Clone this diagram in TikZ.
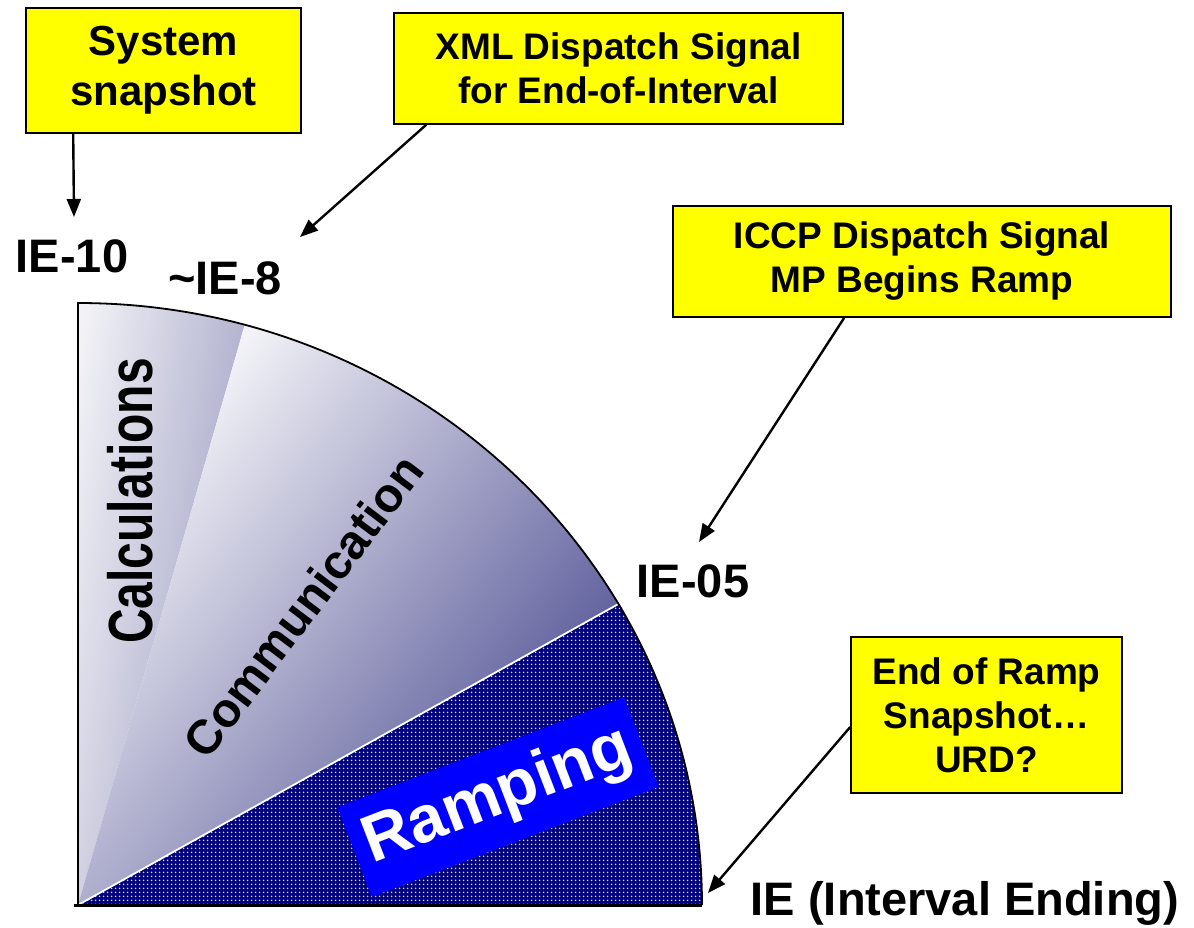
\documentclass[tikz,border=0pt]{standalone}
\usepackage{fontspec}
\setmainfont{Liberation Sans}
\usetikzlibrary{arrows.meta,patterns.meta,calc}
\definecolor{boxyellow}{HTML}{FFFF00}
\definecolor{navyA}{HTML}{000080}
\definecolor{dotc}{HTML}{E0E0FF}
\definecolor{rampblue}{HTML}{0000FF}
\definecolor{commL}{HTML}{F4F4F8}
\definecolor{commD}{HTML}{6464A0}
\definecolor{calcL}{HTML}{F6F6F9}
\definecolor{calcD}{HTML}{B0B0CE}
\begin{document}
\begin{tikzpicture}[x=1pt,y=-1pt,
  lab/.style={font=\fontsize{47}{56}\selectfont\bfseries, inner sep=0pt, anchor=base},
  ybox/.style={draw=black, line width=1.6pt, fill=boxyellow, align=center, inner sep=0pt,
    font=\fontsize{37}{44}\selectfont\bfseries},
  arr/.style={-{Triangle[length=18pt,width=14pt]}, line width=2.4pt},
  sector/.style={font=\fontsize{48}{56}\selectfont\bfseries, inner sep=0pt}
]
\useasboundingbox (0,0) rectangle (1194,927);
\fill[white] (0,0) rectangle (1194,927);

% geometry of the quarter disc
\coordinate (O) at (78,905);
\coordinate (T) at ($(O)+(-90:624 and 602)$);
\coordinate (P1) at ($(O)+(-74.5:624 and 602)$);
\coordinate (P2) at ($(O)+(-30:624 and 602)$);
\coordinate (R) at ($(O)+(0:624 and 602)$);

% Calculations wedge
\begin{scope}
  \clip (O) -- (T) arc[start angle=-90, end angle=-74.5, x radius=624, y radius=602] -- cycle;
  \begin{scope}[transform canvas={rotate around={-9:(161,339)}}]
    \fill[calcL] (-600,-600) rectangle (72,1600);
    \fill[calcD] (250,-600) rectangle (900,1600);
    \shade[left color=calcL, right color=calcD] (71,-600) rectangle (251,1600);
  \end{scope}
\end{scope}

% Communication wedge
\begin{scope}
  \clip (O) -- (P1) arc[start angle=-74.5, end angle=-30, x radius=624, y radius=602] -- cycle;
  \begin{scope}[transform canvas={rotate around={52:(431,464)}}]
    \fill[commL] (-400,-600) rectangle (1300,236);
    \fill[commD] (-400,693) rectangle (1300,1600);
    \shade[top color=commL, bottom color=commD] (-400,234) rectangle (1300,695);
  \end{scope}
\end{scope}

% Ramping wedge
\fill[navyA] (O) -- (P2) arc[start angle=-30, end angle=0, x radius=624, y radius=602] -- cycle;
\fill[pattern={Dots[distance=4pt,radius=1pt]}, pattern color=dotc]
  (O) -- (P2) arc[start angle=-30, end angle=0, x radius=624, y radius=602] -- cycle;
\draw[white, line width=1.8pt] (O) -- (P2);

% outline
\draw[line width=1.8pt] (O) -- (T) arc[start angle=-90, end angle=0, x radius=624, y radius=602];
\draw[line width=3pt] (74,905) -- (R);

% sector texts
\node[sector, rotate=90] (calc) at (130,501) {\scalebox{1}[1.3]{Calculations}};
\node[sector, rotate=53] (comm) at (303,606) {Communication};
\node[fill=rampblue, rotate=21, minimum width=307pt, minimum height=96pt, inner sep=0pt,
  text=white, font=\fontsize{66}{70}\selectfont\bfseries] (ramp) at (498,797) {Ramping};

% time labels
\node[lab] (ie10) at (72,272) {IE-10};
\node[lab] (ie8) at (225,294) {\char`\~IE-8};
\node[lab] (ie05) at (693,597) {IE-05};
\node[lab] (ie) at (965,915) {IE (Interval Ending)};

% yellow boxes
\node[ybox, minimum width=275pt, minimum height=125pt,
  font=\fontsize{42}{50}\selectfont\bfseries] (sys) at (163.5,70.5) {System\\snapshot};
\node[ybox, minimum width=449pt, minimum height=111pt] (xml) at (618.5,68.5)
  {XML Dispatch Signal\\for End-of-Interval};
\node[ybox, minimum width=498pt, minimum height=111pt] (iccp) at (922,261.5)
  {ICCP Dispatch Signal\\MP Begins Ramp};
\node[ybox, minimum width=271pt, minimum height=156pt] (eor) at (986.5,715)
  {End of Ramp\\Snapshot…\\URD?};

% arrow targets
\coordinate (t10) at (74,217);
\coordinate (t8) at (300,237);
\coordinate (t05) at (699,542);
\coordinate (tie) at (708,893);

\draw[arr] ($(sys.south west)+(48,0)$) -- (t10);
\draw[arr] ($(xml.south west)+(33,0)$) -- (t8);
\draw[arr] ($(iccp.south west)+(172,0)$) -- (t05);
\draw[arr] ($(eor.west)+(0,12)$) -- (tie);
\end{tikzpicture}
\end{document}
